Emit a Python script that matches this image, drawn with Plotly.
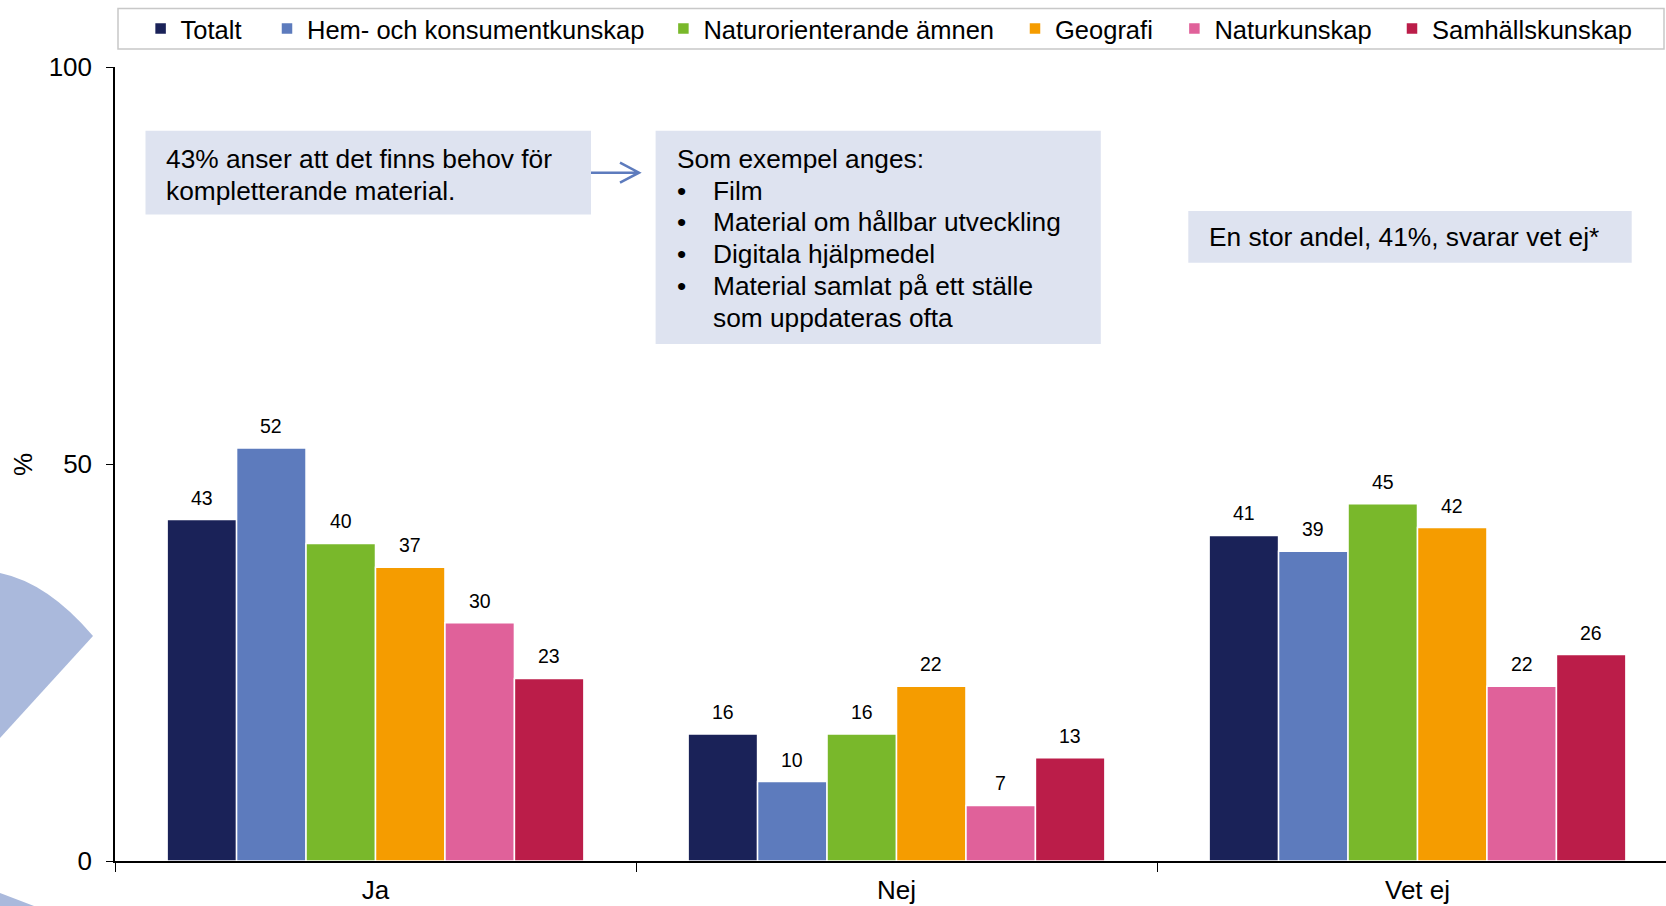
import plotly.graph_objects as go

# ---------------- data ----------------
categories = ["Ja", "Nej", "Vet ej"]
series_names = ["Totalt", "Hem- och konsumentkunskap", "Naturorienterande ämnen",
                "Geografi", "Naturkunskap", "Samhällskunskap"]
totalt = [43, 16, 41]
hem_konsument = [52, 10, 39]
naturorienterande = [40, 16, 45]
geografi = [37, 22, 42]
naturkunskap = [30, 7, 22]
samhallskunskap = [23, 13, 26]
y_tick_values = [0, 50, 100]
y_tick_labels = ["0", "50", "100"]

series_values = [totalt, hem_konsument, naturorienterande, geografi, naturkunskap, samhallskunskap]
colors = ["#1A2258", "#5D7BBD", "#79B82B", "#F59C00", "#E0619A", "#BB1D49"]

# ---------------- geometry helpers ----------------
W, H = 1666, 906
L, R, T, B = 115, 0, 67, 45
PW, PH = W - L - R, H - T - B
CAT_W = 521.0          # pixel width of one category
BARGAP = 0.2


def px(x):
    return (x - L) / PW


def py(y):
    return (H - B - y) / PH


FONT = "Liberation Sans, Arial, sans-serif"

fig = go.Figure()

legend_text_x = [180.6, 307, 703.4, 1055, 1214.4, 1432]
legend_keys = ["legend", "legend2", "legend3", "legend4", "legend5", "legend6"]

for name, vals, col, lk in zip(series_names, series_values, colors, legend_keys):
    fig.add_trace(go.Bar(
        x=categories, y=vals, name=name, showlegend=True,
        marker=dict(color=col, line=dict(color="white", width=1.5)),
        legend=lk,
    ))

# legends, one per series, placed along the top
layout_legends = {}
for lk, tx in zip(legend_keys, legend_text_x):
    layout_legends[lk] = dict(
        x=px(tx - 40), xanchor="left", y=py(29), yanchor="middle",
        orientation="h", font=dict(family=FONT, size=25.5, color="black"),
        bgcolor="rgba(0,0,0,0)", borderwidth=0, itemwidth=30,
        tracegroupgap=0,
    )

# data labels
n = len(series_names)
pitch = CAT_W * (1 - BARGAP) / n
annotations = []
for i, vals in enumerate(series_values):
    for c, v in zip(categories, vals):
        annotations.append(dict(
            x=c, y=v, xref="x", yref="y", text=str(v), showarrow=False,
            xshift=(i - (n - 1) / 2) * pitch, yshift=22, yanchor="middle",
            font=dict(family=FONT, size=19.5, color="black"),
        ))


# text boxes
def txt(s, x, y, size=26.3):
    annotations.append(dict(
        x=px(x), y=py(y), xref="paper", yref="paper", text=s, showarrow=False,
        xanchor="left", yanchor="middle", font=dict(family=FONT, size=size, color="black"),
    ))


txt("43% anser att det finns behov för", 164, 159)
txt("kompletterande material.", 164, 191.5)
txt("Som exempel anges:", 675, 159)
bullet_lines = ["Film", "Material om hållbar utveckling", "Digitala hjälpmedel",
                "Material samlat på ett ställe"]
for k, s in enumerate(bullet_lines):
    yy = 190.5 + k * 31.8
    txt("•", 675, yy)
    txt(s, 711, yy)
txt("som uppdateras ofta", 711, 318)
txt("En stor andel, 41%, svarar vet ej*", 1207, 237)

# y-axis title
annotations.append(dict(
    x=px(23), y=py(465), xref="paper", yref="paper", text="%", showarrow=False,
    textangle=-90, xanchor="center", yanchor="middle",
    font=dict(family=FONT, size=26, color="black"),
))

shapes = []
BOX = "#DEE3F0"
for (x0, y0, x1, y1) in [(145.5, 130.7, 591, 214.6), (655.6, 130.7, 1100.8, 344),
                         (1188.3, 211, 1631.7, 262.7)]:
    shapes.append(dict(type="rect", xref="paper", yref="paper",
                       x0=px(x0), x1=px(x1), y0=py(y1), y1=py(y0),
                       fillcolor=BOX, line=dict(width=0), layer="below"))

# legend frame
shapes.append(dict(type="rect", xref="paper", yref="paper",
                   x0=px(118), x1=px(1664), y0=py(49), y1=py(8.5),
                   fillcolor="rgba(0,0,0,0)", line=dict(color="#C8C8C8", width=1.5)))


def path(points, close=True):
    parts = []
    for cmd, pts in points:
        coords = " ".join(f"{px(a):.5f},{py(b):.5f}" for a, b in pts)
        parts.append(f"{cmd} {coords}")
    return " ".join(parts) + (" Z" if close else "")


# arrow between boxes
shapes.append(dict(type="path", xref="paper", yref="paper",
                   path=path([("M", [(591, 172.7)]), ("L", [(638, 172.7)]),
                              ("M", [(620, 162.7)]), ("L", [(639, 172.7)]),
                              ("L", [(620, 182.7)])], close=False),
                   line=dict(color="#5D7BBD", width=2.5)))

# decorative background wedges on the left edge
DECO = "#AAB9DC"
shapes.append(dict(type="path", xref="paper", yref="paper",
                   path=path([("M", [(0, 573)]), ("Q", [(48, 583), (93, 636)]),
                              ("L", [(0, 738)])]),
                   fillcolor=DECO, line=dict(width=0), layer="below"))
shapes.append(dict(type="path", xref="paper", yref="paper",
                   path=path([("M", [(0, 893)]), ("L", [(34, 906)]), ("L", [(0, 906)])]),
                   fillcolor=DECO, line=dict(width=0), layer="below"))

fig.update_layout(
    width=W, height=H,
    margin=dict(l=L, r=R, t=T, b=B, pad=0, autoexpand=False),
    paper_bgcolor="white", plot_bgcolor="white",
    barmode="group", bargap=BARGAP, bargroupgap=0,
    showlegend=True,
    font=dict(family=FONT, color="black"),
    annotations=annotations, shapes=shapes,
    **layout_legends,
)

fig.update_xaxes(
    type="category", categoryorder="array", categoryarray=categories,
    range=[-0.5, -0.5 + PW / CAT_W],
    showline=True, linecolor="black", linewidth=1.5,
    ticks="outside", tickson="boundaries", ticklen=9, tickwidth=1.2, tickcolor="black",
    ticklabelstandoff=5,
    tickfont=dict(family=FONT, size=26, color="black"),
    showgrid=False, zeroline=False, fixedrange=True,
)
fig.update_yaxes(
    range=[0, 100], tickvals=y_tick_values, ticktext=y_tick_labels,
    showline=True, linecolor="black", linewidth=1.5,
    ticks="outside", ticklen=7, tickwidth=1.2, tickcolor="black",
    ticklabelstandoff=9,
    tickfont=dict(family=FONT, size=26, color="black"),
    showgrid=False, zeroline=False, fixedrange=True,
)

fig.write_html(
    "out.html",
    config={"displayModeBar": False},
    post_script="document.body.style.margin='0';document.body.style.overflow='hidden';",
)
